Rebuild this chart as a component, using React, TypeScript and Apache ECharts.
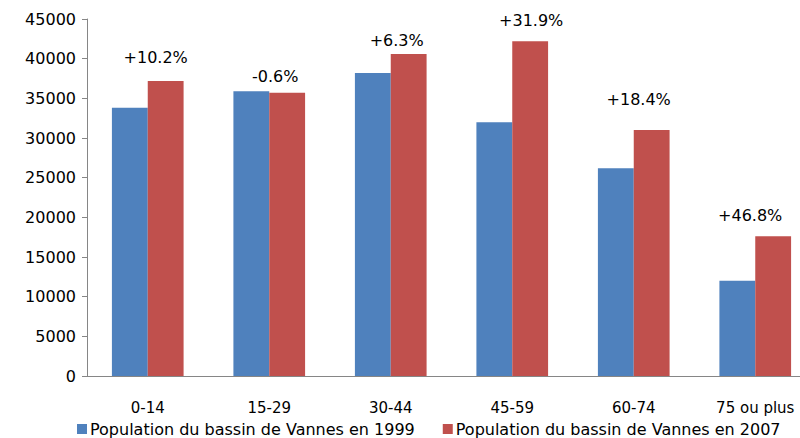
import React, { useEffect, useRef } from "react";
import * as echarts from "echarts";

const categories = ["0-14", "15-29", "30-44", "45-59", "60-74", "75 ou plus"];
const pop1999 = [33800, 35900, 38200, 32000, 26200, 12000];
const pop2007 = [37200, 35700, 40600, 42200, 31000, 17600];
const changeLabels = ["+10.2%", "-0.6%", "+6.3%", "+31.9%", "+18.4%", "+46.8%"];
const labelOffsets = [[-10, -10], [-12, -3], [-12, 0], [1, -8], [-13, -18], [-23, -8]];
const yTicks = { min: 0, max: 45000, interval: 5000 };

const FONT = "DejaVu Sans";

export default function App() {
  const ref = useRef<HTMLDivElement>(null);
  useEffect(() => {
    if (!ref.current) return;
    document.body.style.overflow = "hidden";
    const chart = echarts.init(ref.current, undefined, { renderer: "svg" });
    chart.setOption({
      animation: false,
      backgroundColor: "#ffffff",
      textStyle: { fontFamily: FONT, color: "#000" },
      grid: { left: 87, top: 19, width: 729, height: 357, containLabel: false },
      legend: {
        left: 72,
        top: 416,
        itemWidth: 10,
        itemHeight: 10,
        itemGap: 28,
        icon: "rect",
        textStyle: { fontFamily: FONT, fontSize: 16, color: "#000", padding: [0, 0, 0, -2] },
        data: ["Population du bassin de Vannes en 1999", "Population du bassin de Vannes en 2007"],
      },
      xAxis: {
        type: "category",
        data: categories,
        axisLine: { lineStyle: { color: "#868686" } },
        axisTick: { length: 6, lineStyle: { color: "#868686" } },
        axisLabel: { fontFamily: FONT, fontSize: 15, color: "#000", margin: 24 },
      },
      yAxis: {
        type: "value",
        min: yTicks.min,
        max: yTicks.max,
        interval: yTicks.interval,
        axisLine: { show: true, lineStyle: { color: "#868686" } },
        axisTick: { show: true, length: 5, lineStyle: { color: "#868686" } },
        splitLine: { show: false },
        axisLabel: {
          fontFamily: FONT,
          fontSize: 16,
          color: "#000",
          margin: 11,
          formatter: (v: number) => String(v),
        },
      },
      series: [
        {
          name: "Population du bassin de Vannes en 1999",
          type: "bar",
          data: pop1999,
          barGap: "0%",
          barCategoryGap: "41%",
          itemStyle: { color: "#4F81BD" },
        },
        {
          name: "Population du bassin de Vannes en 2007",
          type: "bar",
          data: pop2007.map((v, i) => ({
            value: v,
            label: {
              show: true,
              position: "top",
              formatter: changeLabels[i],
              offset: labelOffsets[i],
              fontFamily: FONT,
              fontSize: 16,
              color: "#000",
            },
          })),
          barGap: "0%",
          barCategoryGap: "41%",
          itemStyle: { color: "#C0504D" },
        },
      ],
    });
    return () => chart.dispose();
  }, []);
  return (
    <div
      ref={ref}
      style={{ position: "fixed", left: 0, top: 0, width: 830, height: 438 }}
    />
  );
}
